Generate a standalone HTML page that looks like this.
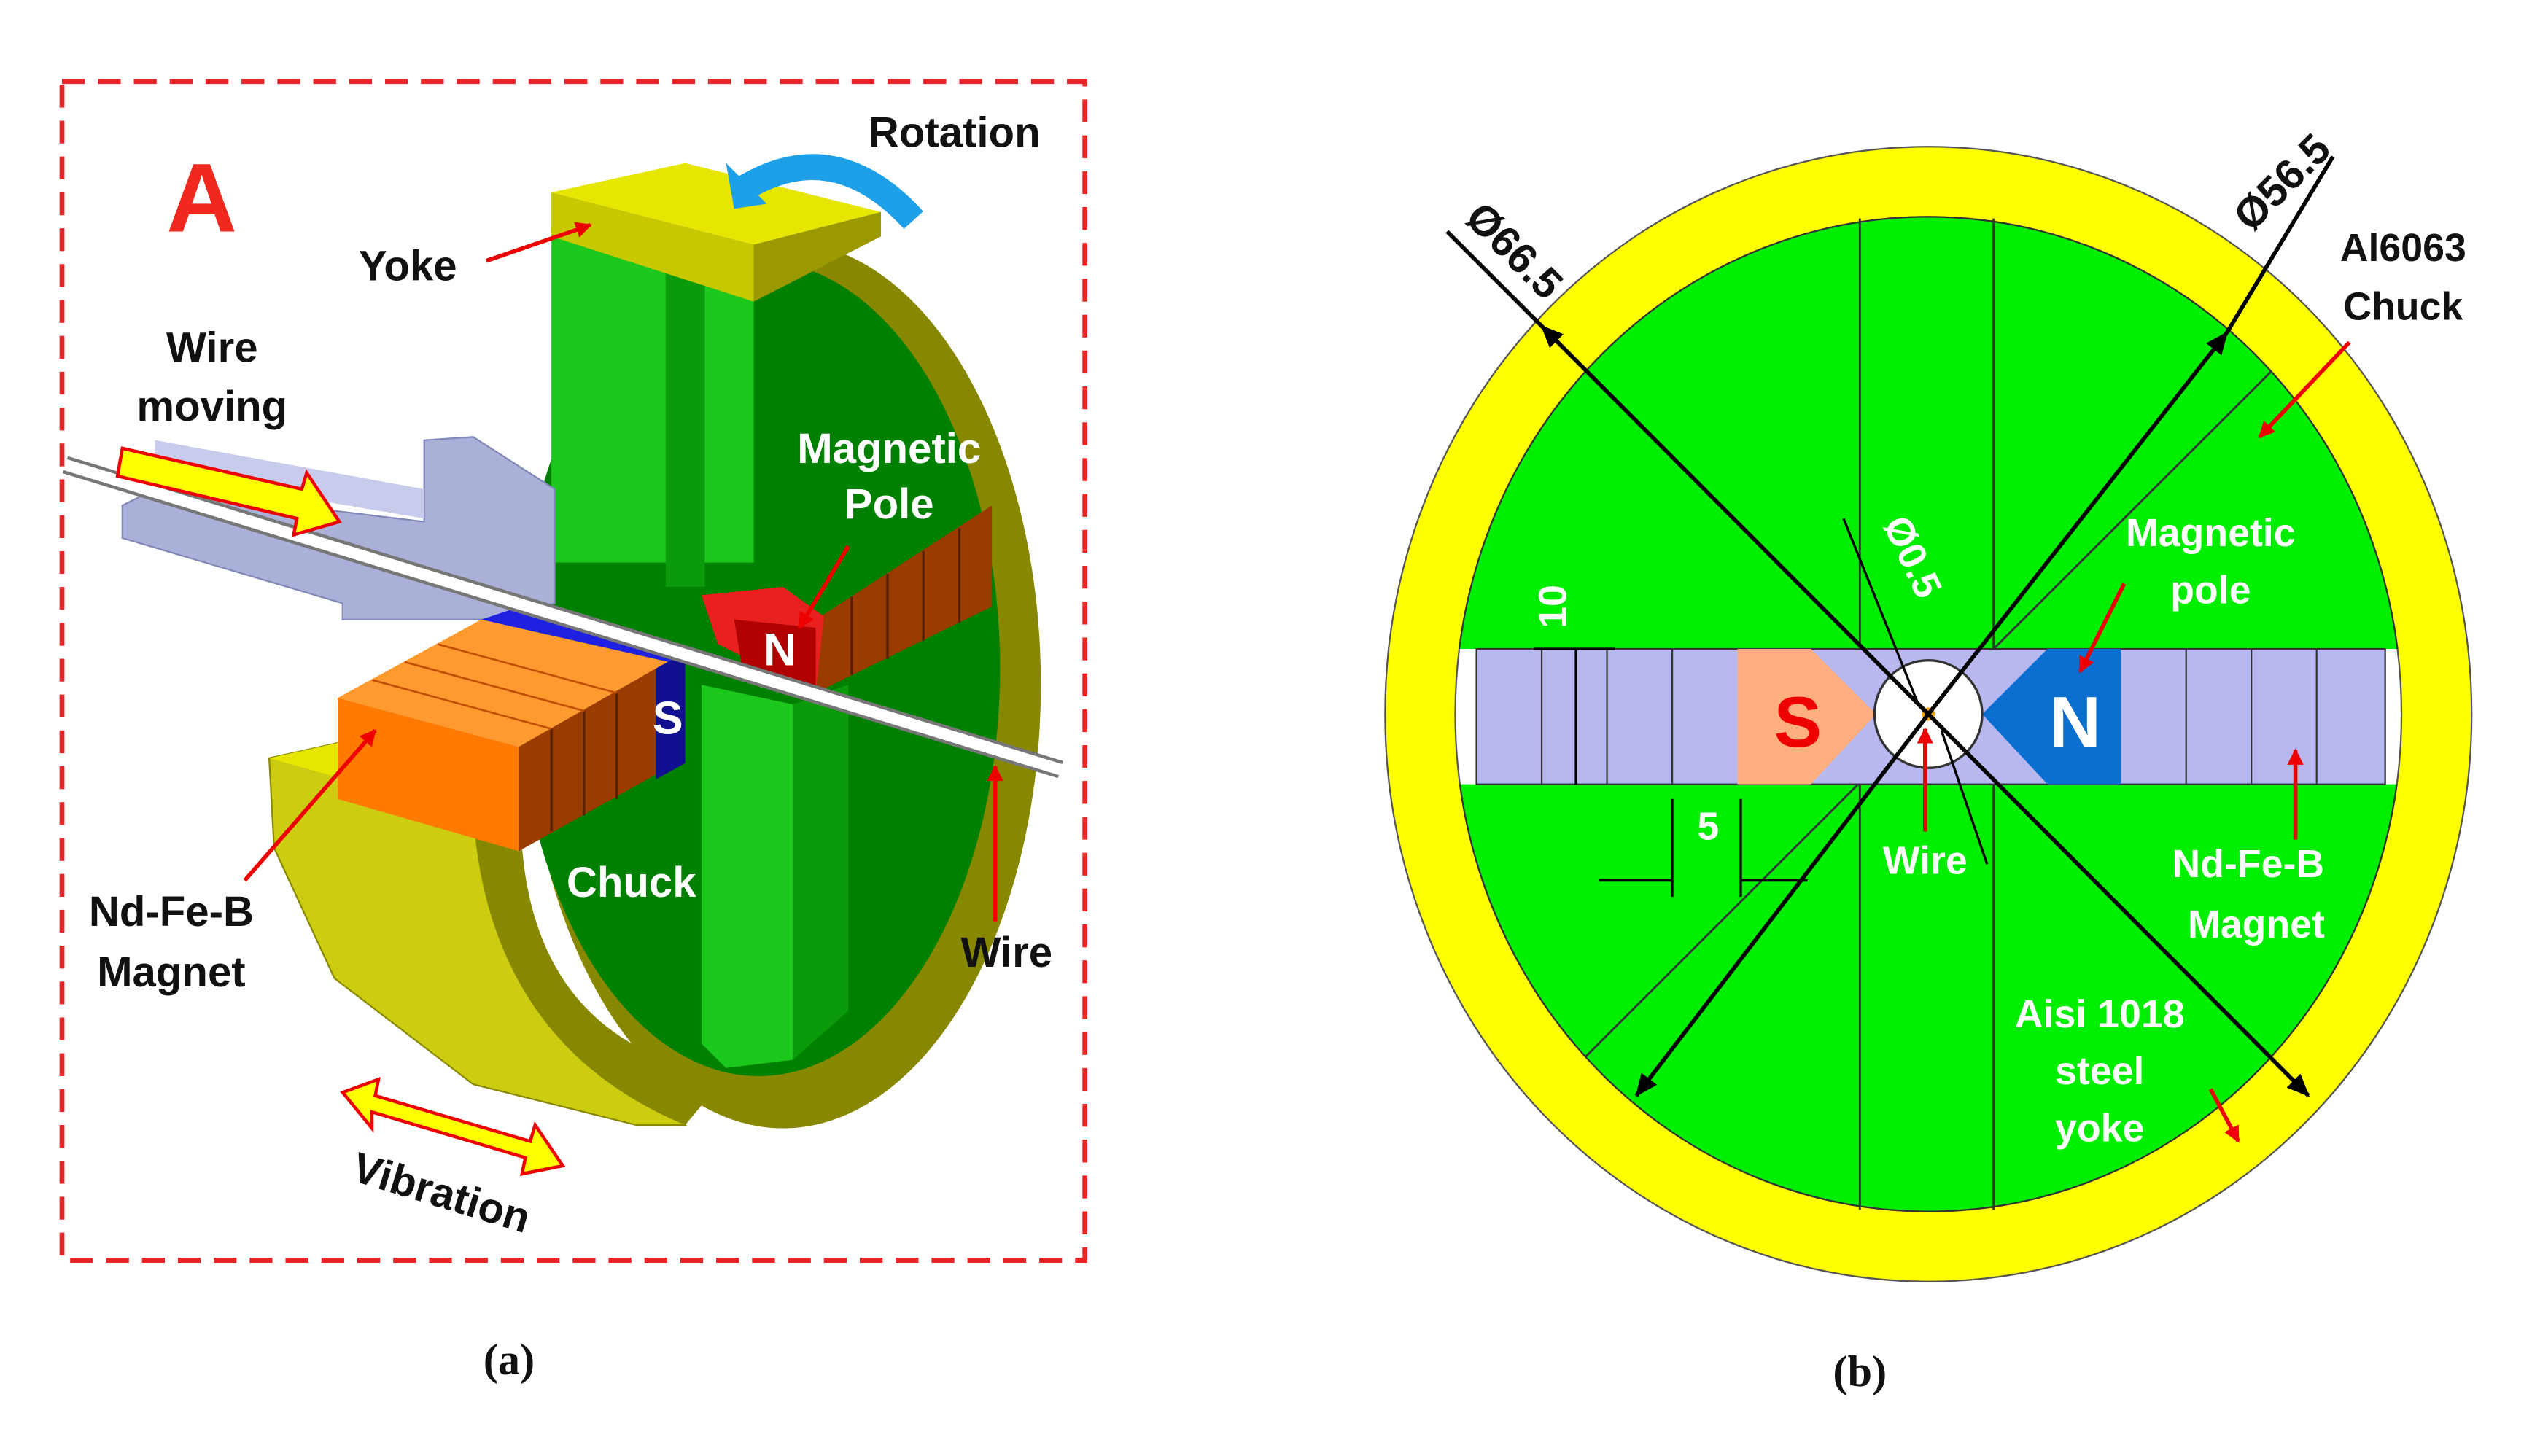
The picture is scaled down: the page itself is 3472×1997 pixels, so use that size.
<!DOCTYPE html>
<html><head><meta charset="utf-8"><style>html,body{margin:0;padding:0;background:#fff}svg{display:block}</style></head><body>
<svg width="3472" height="1997" viewBox="0 0 1552 893" preserveAspectRatio="none" xmlns="http://www.w3.org/2000/svg" font-family="'Liberation Sans',sans-serif" font-weight="bold">
<defs>
<marker id="ar" markerWidth="10" markerHeight="10" refX="9" refY="5" orient="auto" markerUnits="userSpaceOnUse"><path d="M0,0 L10,5 L0,10 z" fill="#e00"/></marker>
<marker id="ak" markerWidth="14" markerHeight="12" refX="13" refY="6" orient="auto" markerUnits="userSpaceOnUse"><path d="M0,0 L14,6 L0,12 z" fill="#000"/></marker>
<clipPath id="top"><rect x="0" y="0" width="1552" height="398"/></clipPath>
<clipPath id="bot"><rect x="0" y="481" width="1552" height="400"/></clipPath>
</defs>
<!-- ========== (a) ========== -->
<rect x="38" y="50" width="627" height="723" fill="none" stroke="#e8262a" stroke-width="3" stroke-dasharray="14,8"/>
<text x="102" y="142" font-size="60" fill="#f0281e">A</text>
<ellipse cx="480" cy="420" rx="158" ry="272" fill="#888800"/>
<ellipse cx="465" cy="410" rx="148" ry="250" fill="#008000"/>
<polygon points="338,140 462,180 462,345 338,345" fill="#1cc81c"/>
<polygon points="408,160 432,168 432,360 408,360" fill="#0a9a0a"/>
<polygon points="430,420 486,432 486,650 445,655 430,640" fill="#1cc81c"/>
<polygon points="486,432 520,420 520,620 486,650" fill="#0a9a0a"/>
<polygon points="338,118 420,100 540,130 462,150" fill="#e6e600"/>
<polygon points="338,118 462,150 462,185 338,145" fill="#c8c800"/>
<polygon points="462,150 540,130 540,145 462,185" fill="#9a9a00"/>
<polygon points="75,310 95,300 260,320 260,270 290,268 340,300 340,370 300,380 210,380 210,370 75,330" fill="#aab0d8" stroke="#8088b8"/>
<polygon points="95,270 260,300 260,318 95,290" fill="#c8ccec"/>
<polygon points="500,380 608,310 608,372 500,425" fill="#9a3c00"/>
<g stroke="#5a2000" stroke-width="1.5"><line x1="522" y1="366" x2="522" y2="414"/><line x1="544" y1="352" x2="544" y2="404"/><line x1="566" y1="338" x2="566" y2="393"/><line x1="588" y1="324" x2="588" y2="382"/></g>
<polygon points="430,365 480,360 505,378 500,425 440,395" fill="#e82020"/>
<polygon points="450,380 500,385 500,425 455,410" fill="#b00000"/>
<text x="468" y="408" font-size="28" fill="#fff">N</text>
<polygon points="165,465 210,455 295,490 290,500 320,580 420,690 390,690 290,665 205,600 168,520" fill="#cccc10" stroke="#888800"/>
<polygon points="165,465 210,455 295,490 290,500" fill="#e6e600"/>
<path d="M290,500 Q300,640 420,690 L445,660 Q330,640 320,520 Z" fill="#888800"/>
<polygon points="207,428 295,380 410,406 318,458" fill="#ff9a30"/>
<polygon points="207,428 318,458 318,522 207,490" fill="#ff7a00"/>
<polygon points="318,458 402,410 402,475 318,522" fill="#9a3c00"/>
<g stroke="#5a2000" stroke-width="1.5"><line x1="338" y1="447" x2="338" y2="510"/><line x1="358" y1="436" x2="358" y2="500"/><line x1="378" y1="425" x2="378" y2="490"/></g>
<g stroke="#c05000" stroke-width="1.2"><line x1="228" y1="417" x2="338" y2="447"/><line x1="248" y1="406" x2="358" y2="436"/><line x1="268" y1="395" x2="378" y2="425"/></g>
<polygon points="295,380 325,370 420,400 410,406" fill="#2020e0"/>
<polygon points="402,410 420,400 420,468 402,478" fill="#101090"/>
<text x="400" y="450" font-size="28" fill="#fff">S</text>
<line x1="40" y1="285" x2="650" y2="472" stroke="#777" stroke-width="11"/>
<line x1="40" y1="285" x2="650" y2="472" stroke="#fff" stroke-width="7"/>
<polygon points="75,275 185,300 188,290 208,320 180,328 182,318 72,292" fill="#ffff00" stroke="#e00" stroke-width="2"/>
<polygon points="210,670 232,662 230,672 325,700 328,690 345,715 320,720 322,710 228,682 228,692" fill="#ffff00" stroke="#e00" stroke-width="2"/>
<path d="M452,118 Q510,80 560,135" fill="none" stroke="#1ea0e8" stroke-width="16"/>
<polygon points="445,100 470,125 450,128" fill="#1ea0e8"/>
<g stroke="#e00" stroke-width="2.5" fill="none">
<line x1="298" y1="160" x2="362" y2="138" marker-end="url(#ar)"/>
<line x1="150" y1="540" x2="230" y2="448" marker-end="url(#ar)"/>
<line x1="520" y1="335" x2="490" y2="385" marker-end="url(#ar)"/>
<line x1="610" y1="565" x2="610" y2="470" marker-end="url(#ar)"/>
</g>
<g font-size="26" fill="#111" text-anchor="middle">
<text x="585" y="90">Rotation</text>
<text x="250" y="172">Yoke</text>
<text x="130" y="222">Wire</text>
<text x="130" y="258">moving</text>
<text x="105" y="568">Nd-Fe-B</text>
<text x="105" y="605">Magnet</text>
<text x="617" y="593">Wire</text>
<text x="268" y="740" transform="rotate(17 268 740)">Vibration</text>
</g>
<g font-size="26" fill="#fff" text-anchor="middle">
<text x="545" y="284">Magnetic</text>
<text x="545" y="318">Pole</text>
<text x="387" y="550">Chuck</text>
</g>
<text x="312" y="843" font-family="'Liberation Serif',serif" font-size="27" text-anchor="middle" fill="#111">(a)</text>
<!-- ========== (b) ========== -->
<ellipse cx="1182" cy="438" rx="333" ry="348" fill="#ffff00" stroke="#555" stroke-width="1"/>
<ellipse cx="1182" cy="438" rx="290" ry="305" fill="#fff" stroke="#555" stroke-width="1"/>
<g clip-path="url(#top)"><ellipse cx="1182" cy="438" rx="290" ry="305" fill="#00ee00" stroke="#333"/></g>
<g clip-path="url(#bot)"><ellipse cx="1182" cy="438" rx="290" ry="305" fill="#00ee00" stroke="#333"/></g>
<g stroke="#333" stroke-width="1.3">
<line x1="1140" y1="134" x2="1140" y2="742"/><line x1="1222" y1="134" x2="1222" y2="742"/>
<line x1="1182" y1="438" x2="972" y2="228"/><line x1="1182" y1="438" x2="1392" y2="228"/>
<line x1="1182" y1="438" x2="972" y2="648"/><line x1="1182" y1="438" x2="1392" y2="648"/>
</g>
<rect x="905" y="398" width="557" height="83" fill="#b8b8f0" stroke="#333"/>
<g stroke="#333"><line x1="945" y1="398" x2="945" y2="481"/><line x1="985" y1="398" x2="985" y2="481"/><line x1="1025" y1="398" x2="1025" y2="481"/><line x1="1340" y1="398" x2="1340" y2="481"/><line x1="1380" y1="398" x2="1380" y2="481"/><line x1="1420" y1="398" x2="1420" y2="481"/></g>
<polygon points="1065,398 1110,398 1150,438 1110,481 1065,481" fill="#ffae80"/>
<polygon points="1300,398 1255,398 1215,438 1255,481 1300,481" fill="#0a6ed0"/>
<text x="1102" y="458" font-size="44" fill="#e00" text-anchor="middle">S</text>
<text x="1272" y="458" font-size="44" fill="#fff" text-anchor="middle">N</text>
<circle cx="1182" cy="438" r="33" fill="#fff" stroke="#333" stroke-width="1.5"/>
<circle cx="1182" cy="438" r="4" fill="#f0a000"/>
<g stroke="#000" stroke-width="2.5" fill="none">
<line x1="887" y1="142" x2="945" y2="200"/>
<line x1="1182" y1="438" x2="945" y2="200" marker-end="url(#ak)"/>
<line x1="1182" y1="438" x2="1415" y2="672" marker-end="url(#ak)"/>
<line x1="1430" y1="96" x2="1365" y2="204"/>
<line x1="1182" y1="438" x2="1365" y2="204" marker-end="url(#ak)"/>
<line x1="1182" y1="438" x2="1003" y2="672" marker-end="url(#ak)"/>
<line x1="1130" y1="318" x2="1175" y2="430" stroke-width="1.5"/>
<line x1="1218" y1="530" x2="1190" y2="448" stroke-width="1.5"/>
<line x1="966" y1="398" x2="966" y2="481" stroke-width="1.5"/>
<line x1="940" y1="398" x2="990" y2="398" stroke-width="1.5"/>
<line x1="1025" y1="490" x2="1025" y2="550" stroke-width="1.5"/>
<line x1="1067" y1="490" x2="1067" y2="550" stroke-width="1.5"/>
<line x1="980" y1="540" x2="1025" y2="540" stroke-width="1.5"/>
<line x1="1067" y1="540" x2="1108" y2="540" stroke-width="1.5"/>
</g>
<g font-size="26" fill="#111" text-anchor="middle">
<text x="922" y="160" transform="rotate(45 922 160)">Ø66.5</text>
<text x="1405" y="118" transform="rotate(-45 1405 118)">Ø56.5</text>
</g>
<g font-size="24" fill="#fff" text-anchor="middle">
<text x="1165" y="345" transform="rotate(65 1165 345)">Ø0.5</text>
<text x="960" y="372" transform="rotate(-90 960 372)">10</text>
<text x="1047" y="515">5</text>
<text x="1355" y="335">Magnetic</text>
<text x="1355" y="370">pole</text>
<text x="1180" y="536">Wire</text>
<text x="1378" y="538">Nd-Fe-B</text>
<text x="1383" y="575">Magnet</text>
<text x="1287" y="630">Aisi 1018</text>
<text x="1287" y="665">steel</text>
<text x="1287" y="700">yoke</text>
</g>
<g font-size="24" fill="#111" text-anchor="middle">
<text x="1473" y="160">Al6063</text>
<text x="1473" y="196">Chuck</text>
</g>
<g stroke="#e00" stroke-width="2.5" fill="none">
<line x1="1440" y1="210" x2="1385" y2="268" marker-end="url(#ar)"/>
<line x1="1302" y1="358" x2="1275" y2="412" marker-end="url(#ar)"/>
<line x1="1180" y1="510" x2="1180" y2="447" marker-end="url(#ar)"/>
<line x1="1407" y1="515" x2="1407" y2="460" marker-end="url(#ar)"/>
<line x1="1355" y1="668" x2="1372" y2="700" marker-end="url(#ar)"/>
</g>
<text x="1140" y="850" font-family="'Liberation Serif',serif" font-size="27" text-anchor="middle" fill="#111">(b)</text>
</svg>
</body></html>
